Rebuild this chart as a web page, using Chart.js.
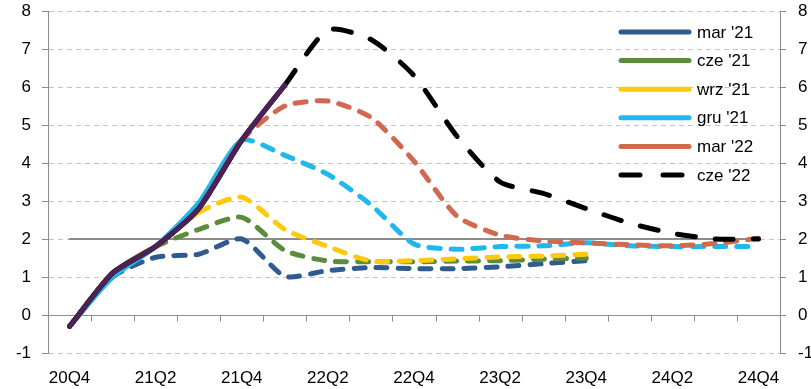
<!DOCTYPE html>
<html>
<head>
<meta charset="utf-8">
<script src="https://cdn.jsdelivr.net/npm/chart.js@4.4.1/dist/chart.umd.min.js"></script>
<style>
    html, body { margin: 0; padding: 0; background: #fff; }
    #wrap { width: 811px; height: 389px; }
</style>
</head>
<body>
<div id="wrap"><canvas id="cpi-chart" width="811" height="389"></canvas></div>
<script>
// quarters on the x axis
const quarters = ['20Q4', '21Q1', '21Q2', '21Q3', '21Q4', '22Q1', '22Q2', '22Q3', '22Q4',
    '23Q1', '23Q2', '23Q3', '23Q4', '24Q1', '24Q2', '24Q3', '24Q4'];

// actual data (solid purple line)
const actual = [-0.3, 1.1, 1.8, 2.8, 4.6, 6.05];

// projections
const mar21 = [-0.3, 1.0, 1.52, 1.6, 2.0, 1.02, 1.17, 1.25, 1.22, 1.22, 1.27, 1.35, 1.43];
const cze21 = [-0.3, 1.1, 1.8, 2.25, 2.57, 1.7, 1.42, 1.4, 1.4, 1.42, 1.43, 1.47, 1.5];
const wrz21 = [-0.3, 1.1, 1.8, 2.7, 3.1, 2.25, 1.8, 1.42, 1.43, 1.48, 1.53, 1.55, 1.6];
const gru21 = [-0.3, 1.0, 1.8, 2.95, 4.6, 4.2, 3.7, 2.9, 1.87, 1.73, 1.8, 1.82, 1.9, 1.82, 1.8, 1.8, 1.8];
const mar22 = [-0.3, 1.1, 1.8, 2.8, 4.6, 5.5, 5.63, 5.2, 4.05, 2.6, 2.1, 1.95, 1.9, 1.85, 1.82, 1.88, 2.02];
const cze22 = [-0.3, 1.1, 1.8, 2.8, 4.6, 6.05, 7.5, 7.25, 6.3, 4.7, 3.5, 3.2, 2.8, 2.42, 2.15, 2.0, 2.0];

// inflation target line
const target = [2, 2, 2, 2, 2, 2, 2, 2, 2, 2, 2, 2, 2, 2, 2, 2, 2];

const seriesNames = ["mar '21", "cze '21", "wrz '21", "gru '21", "mar '22", "cze '22"];
const seriesData = [mar21, cze21, wrz21, gru21, mar22, cze22];
// first quarter of each projection (dashed from there on)
const projStart = [1, 2, 3, 4, 4, 5];

const colors = ['#2f5b8f', '#5b8c3b', '#ffc90e', '#1fb8ec', '#d0694f', '#000000'];
const FONT = '"Liberation Sans", Arial, sans-serif';

function dashFor(i) {
    return i === 5 ? [18, 20] : [11, 11];
}

let datasets = [];
datasets.push({
    label: 'actual',
    data: actual,
    borderColor: '#4c2157',
    borderWidth: 5,
    order: 0
});
seriesData.forEach((d, i) => {
    datasets.push({
        label: seriesNames[i],
        data: d,
        borderColor: colors[i],
        borderWidth: 5,
        order: 7 - i,
        segment: {
            borderDash: ctx => ctx.p0DataIndex >= projStart[i] ? dashFor(i) : undefined
        }
    });
});
datasets.push({
    label: 'target',
    data: target,
    borderColor: '#8c8c8c',
    borderWidth: 2,
    tension: 0,
    order: 20
});

// zero axis line with little marks between quarters, plus the legend inside the plot
const extras = {
    id: 'extras',
    beforeDatasetsDraw(chart) {
        const { ctx, chartArea, scales } = chart;
        const y0 = Math.round(scales.y.getPixelForValue(0)) + 0.5;
        ctx.save();
        ctx.strokeStyle = '#8c8c8c';
        ctx.lineWidth = 1;
        ctx.beginPath();
        ctx.moveTo(chartArea.left, y0);
        ctx.lineTo(chartArea.right, y0);
        for (let i = 1; i < quarters.length; i++) {
            const x = Math.round((scales.x.getPixelForValue(i - 1) + scales.x.getPixelForValue(i)) / 2) + 0.5;
            ctx.moveTo(x, y0);
            ctx.lineTo(x, y0 + 6);
        }
        ctx.stroke();
        ctx.restore();
    },
    afterDatasetsDraw(chart) {
        const ctx = chart.ctx;
        ctx.save();
        ctx.font = '17px ' + FONT;
        ctx.textBaseline = 'middle';
        ctx.lineCap = 'round';
        ctx.lineWidth = 5;
        seriesNames.forEach((name, i) => {
            const y = 32 + i * 28.6;
            ctx.strokeStyle = colors[i];
            ctx.setLineDash(i === 5 ? [19, 23] : []);
            ctx.beginPath();
            ctx.moveTo(621, y);
            ctx.lineTo(689, y);
            ctx.stroke();
            ctx.fillStyle = '#000';
            ctx.fillText(name, 697, y + 1);
        });
        ctx.restore();
    }
};

// fixed axis sizes so the plot area sits where it does in the original
function fitY(width) {
    return s => {
        s.width = width;
        s.paddingTop = 0;
        s.paddingBottom = 0;
    };
}

let ctx = document.getElementById('cpi-chart');
let myChart = new Chart(ctx, {
    type: 'line',
    data: { labels: quarters, datasets: datasets },
    plugins: [extras],
    options: {
        responsive: false,
        animation: false,
        layout: { padding: { top: 11, left: 0, right: 0, bottom: 0 } },
        elements: {
            point: { radius: 0 },
            line: { tension: 0.22, borderCapStyle: 'round', borderJoinStyle: 'round', fill: false }
        },
        plugins: { legend: { display: false }, tooltip: { enabled: false } },
        scales: {
            x: {
                offset: true,
                grid: { display: false, drawTicks: false },
                border: { display: false },
                ticks: {
                    autoSkip: false,
                    maxRotation: 0,
                    padding: 15,
                    color: '#000',
                    font: { family: FONT, size: 17 },
                    callback: (v, i) => i % 2 === 0 ? quarters[i] : ''
                },
                afterFit: s => { s.height = 36; s.paddingLeft = 0; s.paddingRight = 0; }
            },
            y: {
                position: 'left',
                min: -1,
                max: 8,
                ticks: { stepSize: 1, padding: 11, color: '#000', font: { family: FONT, size: 17 } },
                grid: { color: '#c4c4c4', tickColor: '#8c8c8c', tickLength: 6, tickBorderDash: [] },
                border: { display: true, color: '#8c8c8c', dash: [5, 4] },
                afterFit: fitY(48)
            },
            y2: {
                position: 'right',
                min: -1,
                max: 8,
                ticks: { stepSize: 1, padding: 12, color: '#000', font: { family: FONT, size: 17 } },
                grid: { drawOnChartArea: false, tickColor: '#8c8c8c', tickLength: 6 },
                border: { display: true, color: '#8c8c8c' },
                afterFit: fitY(31)
            }
        }
    }
});
</script>
</body>
</html>
